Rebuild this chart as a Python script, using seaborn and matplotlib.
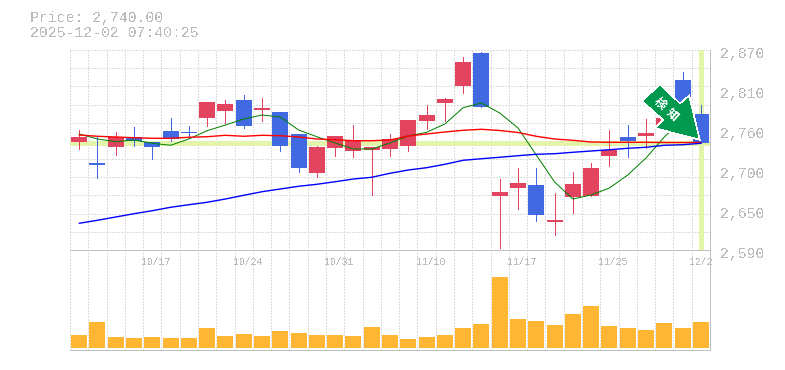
import numpy as np
import matplotlib
matplotlib.use("Agg")
import matplotlib.pyplot as plt
from matplotlib.patches import Polygon
import seaborn as sns

# candles, oldest first
opens = [2741.2, 2711.8, 2734.2, 2747.8, 2741.2, 2756.6, 2755.2, 2774.8, 2784.6, 2800.0,
         2786.0, 2783.2, 2752.4, 2697.8, 2732.8, 2728.6, 2730.0, 2731.4, 2735.6, 2770.6,
         2795.8, 2819.6, 2865.8, 2665.6, 2676.8, 2681.0, 2629.2, 2664.2, 2665.6, 2721.6,
         2748.2, 2749.6, 2762.2, 2828.0, 2780.0]
closes = [2748.2, 2709.0, 2747.8, 2742.6, 2734.2, 2745.4, 2753.8, 2797.2, 2794.4, 2763.6,
          2788.8, 2735.6, 2704.8, 2734.2, 2749.6, 2742.6, 2734.2, 2745.4, 2772.0, 2779.0,
          2801.4, 2853.2, 2790.2, 2671.2, 2683.8, 2639.0, 2632.0, 2682.4, 2704.8, 2730.0,
          2742.6, 2753.8, 2774.8, 2795.8, 2740.0]
highs = [2758.0, 2748.6, 2755.2, 2762.2, 2741.2, 2774.8, 2763.6, 2797.2, 2800.0, 2807.0,
         2802.8, 2783.2, 2752.4, 2735.6, 2749.6, 2765.0, 2734.2, 2752.4, 2772.0, 2793.0,
         2802.8, 2860.2, 2867.2, 2689.4, 2704.8, 2704.8, 2669.8, 2699.2, 2711.8, 2758.0,
         2765.0, 2773.4, 2783.2, 2839.2, 2793.0]
lows = [2731.4, 2690.8, 2723.0, 2735.6, 2717.4, 2742.6, 2746.8, 2763.6, 2767.8, 2760.8,
        2770.6, 2728.6, 2699.2, 2692.2, 2721.6, 2720.2, 2667.0, 2721.6, 2728.6, 2759.4,
        2770.6, 2809.8, 2790.2, 2592.8, 2647.4, 2630.6, 2611.0, 2641.8, 2665.6, 2707.6,
        2720.2, 2732.8, 2762.2, 2795.8, 2740.0]

# moving averages
ma_green = [2752.4, 2745.4, 2741.6, 2744.0, 2739.4, 2736.6, 2745.4, 2757.0, 2765.0, 2773.4,
            2779.0, 2776.2, 2758.0, 2748.6, 2739.8, 2731.4, 2731.4, 2739.8, 2749.6, 2754.8,
            2766.4, 2789.2, 2795.8, 2781.8, 2760.8, 2723.0, 2685.2, 2661.4, 2667.0, 2676.8,
            2695.0, 2718.8, 2748.2, 2772.0]
ma_red = [2751.0, 2749.2, 2748.2, 2747.2, 2746.4, 2746.4, 2747.8, 2748.6, 2750.6, 2749.2,
          2750.6, 2750.0, 2748.2, 2745.4, 2744.4, 2743.0, 2743.0, 2744.0, 2749.6, 2752.4,
          2755.2, 2757.6, 2759.0, 2757.3, 2754.5, 2749.2, 2745.4, 2743.6, 2741.2, 2740.8,
          2740.8, 2740.8, 2740.5, 2740.5, 2740.5]
ma_blue = [2627.4, 2631.6, 2636.2, 2640.8, 2645.0, 2649.8, 2653.4, 2656.8, 2661.4, 2666.6,
           2671.6, 2675.4, 2679.2, 2682.0, 2685.6, 2689.4, 2691.8, 2697.4, 2702.0, 2705.2,
           2710.0, 2715.6, 2717.8, 2719.8, 2722.0, 2724.0, 2724.8, 2726.8, 2728.6, 2730.4,
           2732.4, 2733.8, 2736.6, 2737.4, 2739.4]

volume = [13, 26, 11, 10, 11, 10, 10, 20, 12, 14, 12, 17, 15, 13, 13, 12, 21, 13, 9, 11,
          13, 20, 24, 71, 29, 27, 23, 34, 42, 22, 20, 18, 25, 20, 26]

price_labels = ["2,870", "2,810", "2,760", "2,700", "2,650", "2,590"]
date_labels = ["10/17", "10/24", "10/31", "11/10", "11/17", "11/25", "12/2"]
date_pos = [4, 9, 14, 19, 24, 29, 33.8]
last_price = 2740
y_min, y_max = 2590, 2870

GREY = "#bbbbbb"
UP = "#e2435f"
DOWN = "#4169e1"
PALE = "#e3f5aa"

sns.set_theme(style="white")
plt.rcParams["font.family"] = ["Liberation Mono", "Noto Sans CJK JP", "DejaVu Sans"]
plt.rcParams["patch.antialiased"] = False
plt.rcParams["lines.antialiased"] = False
plt.rcParams["text.antialiased"] = False

W, H = 785, 370
fig = plt.figure(figsize=(W / 100, H / 100), dpi=100)
ax = fig.add_axes([70 / W, 1 - 250 / H, 640 / W, 200 / H])
ax_vol = fig.add_axes([70 / W, 1 - 350 / H, 640 / W, 100 / H])
ax_vol.patch.set_visible(False)

idx = np.arange(len(opens))
o, c, hi, lo = map(np.array, (opens, closes, highs, lows))
up = c >= o

# bodies, one colour at a time
for mask, col in ((up, UP), (~up, DOWN)):
    sns.barplot(x=idx[mask], y=np.abs(c - o)[mask], bottom=np.minimum(o, c)[mask],
                native_scale=True, color=col, saturation=1, width=0.875, linewidth=0,
                errorbar=None, ax=ax, zorder=2)
    ax.vlines(idx[mask], lo[mask], hi[mask], color=col, lw=0.72, zorder=2)

ax.axhline(last_price, color=PALE, lw=2.4, zorder=1)
ax.axvline(idx[-1], ymin=0.01, color=PALE, lw=2.4, zorder=1)

# non-antialiased lines come out too fat here, so these three stay smooth
sns.lineplot(x=idx[:len(ma_green)], y=ma_green, color="#008000", linewidth=0.72,
             antialiased=True, ax=ax, zorder=3)
sns.lineplot(x=idx, y=ma_red, color="#ff0000", linewidth=1.0, antialiased=True, ax=ax, zorder=3)
sns.lineplot(x=idx, y=ma_blue, color="#0000ff", linewidth=1.0, antialiased=True, ax=ax, zorder=3)

sns.barplot(x=idx, y=volume, native_scale=True, color="#ffb733", saturation=1, width=0.875,
            linewidth=0, errorbar=None, ax=ax_vol, zorder=2)

grid_kw = dict(color="#dddddd", lw=0.72, ls=(0, (2, 2)))
for a in (ax, ax_vol):
    a.set_xlim(-0.5, len(idx) - 0.5)
    a.set_xticks(np.arange(-0.5, len(idx), 1))
    a.set_xticklabels([])
    a.set_xlabel("")
    a.set_ylabel("")
    a.tick_params(length=0)
    a.set_axisbelow(True)
    a.grid(axis="x", **grid_kw)
    for s in a.spines.values():
        s.set_visible(False)
    for side in ("right", "bottom"):
        a.spines[side].set_visible(True)
        a.spines[side].set_color("#c0c0c0")
        a.spines[side].set_linewidth(0.72)

ax.set_ylim(y_min, y_max)
ax.set_yticks(np.linspace(y_min, y_max, 12))
ax.set_yticklabels([])
ax.grid(axis="y", **grid_kw)

ax_vol.set_ylim(-2, 98)
ax_vol.set_yticks([])

# price labels on the right
for lab, frac in zip(price_labels, np.linspace(1, 0, len(price_labels))):
    ax.annotate(lab, xy=(1, frac), xycoords="axes fraction", xytext=(7.2, -2.9),
                textcoords="offset points", ha="left", va="center",
                color=GREY, fontsize=10.75, annotation_clip=False, zorder=6)

for lab, pos in zip(date_labels, date_pos):
    ax_vol.annotate(lab, xy=(pos, 1), xycoords=("data", "axes fraction"), xytext=(2.9, -8.6),
                    textcoords="offset points", ha="center", va="center",
                    color=GREY, fontsize=7.1, annotation_clip=False)

fig.text(30 / W, 1 - 18 / H, "Price: 2,740.00", color=GREY, fontsize=10.75, va="center")
fig.text(30 / W, 1 - 33 / H, "2025-12-02 07:40:25", color=GREY, fontsize=10.75, va="center")


def px(x, y):
    return (x - 70) / 640, (250 - y) / 200


# the signal badge, white halo first then the green arrow on it
badge = [px(*p) for p in [(644.3, 101), (660, 86.7), (680, 105.7), (688.3, 98.3), (697.7, 137.7),
                          (657.7, 127.3), (665.7, 120)]]
ax.add_patch(Polygon(badge, closed=True, transform=ax.transAxes, facecolor="white",
                     edgecolor="white", lw=2.6, zorder=5, joinstyle="miter"))
ax.add_patch(Polygon(badge, closed=True, transform=ax.transAxes, facecolor="#00994d",
                     edgecolor="none", lw=0, zorder=5.1))
for ch, (tx, ty) in zip("検知", [(660, 104), (672, 114)]):
    ax.text(*px(tx, ty), ch, transform=ax.transAxes, rotation=-42, rotation_mode="anchor",
            ha="center", va="center", color="white", fontsize=8.5, fontweight="bold",
            family=["Noto Sans CJK JP", "DejaVu Sans"], zorder=6)

fig.savefig("out.png", dpi=100, facecolor="white")
